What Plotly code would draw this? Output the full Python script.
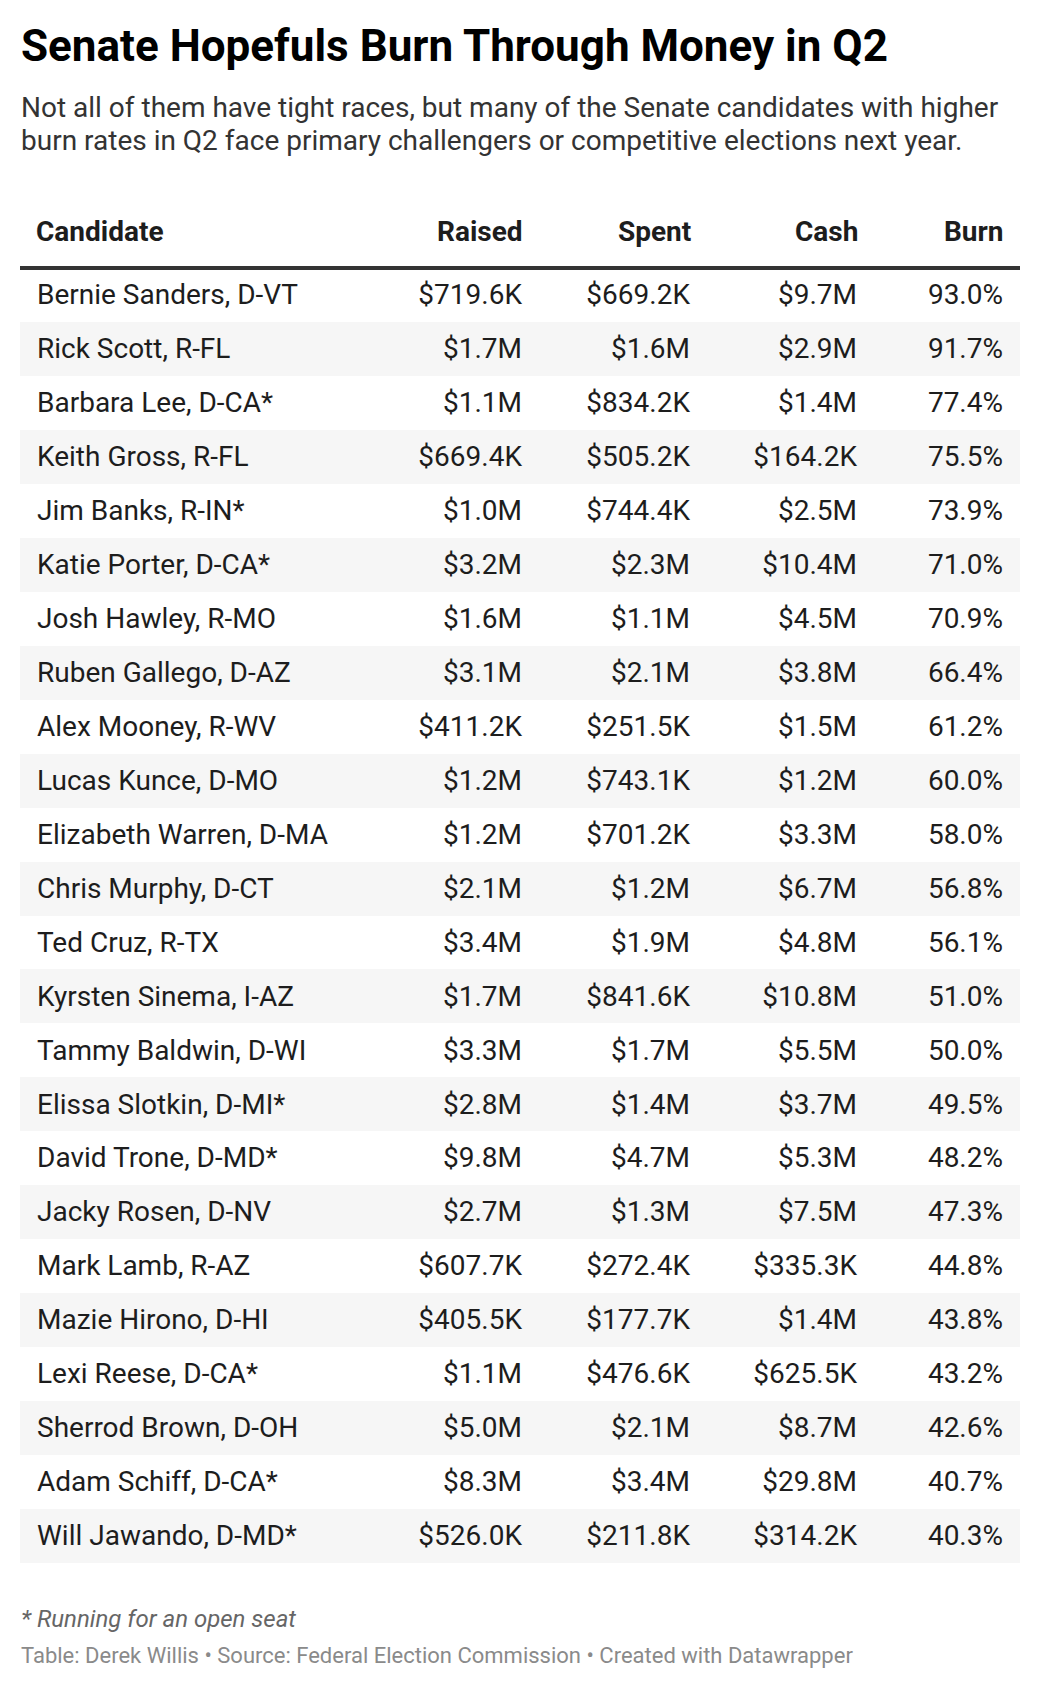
import plotly.graph_objects as go

# Q2 Senate campaign finance
candidates = [
    "Bernie Sanders, D-VT", "Rick Scott, R-FL", "Barbara Lee, D-CA*", "Keith Gross, R-FL",
    "Jim Banks, R-IN*", "Katie Porter, D-CA*", "Josh Hawley, R-MO", "Ruben Gallego, D-AZ",
    "Alex Mooney, R-WV", "Lucas Kunce, D-MO", "Elizabeth Warren, D-MA", "Chris Murphy, D-CT",
    "Ted Cruz, R-TX", "Kyrsten Sinema, I-AZ", "Tammy Baldwin, D-WI", "Elissa Slotkin, D-MI*",
    "David Trone, D-MD*", "Jacky Rosen, D-NV", "Mark Lamb, R-AZ", "Mazie Hirono, D-HI",
    "Lexi Reese, D-CA*", "Sherrod Brown, D-OH", "Adam Schiff, D-CA*", "Will Jawando, D-MD*",
]
raised = ["$719.6K", "$1.7M", "$1.1M", "$669.4K", "$1.0M", "$3.2M", "$1.6M", "$3.1M",
          "$411.2K", "$1.2M", "$1.2M", "$2.1M", "$3.4M", "$1.7M", "$3.3M", "$2.8M",
          "$9.8M", "$2.7M", "$607.7K", "$405.5K", "$1.1M", "$5.0M", "$8.3M", "$526.0K"]
spent = ["$669.2K", "$1.6M", "$834.2K", "$505.2K", "$744.4K", "$2.3M", "$1.1M", "$2.1M",
         "$251.5K", "$743.1K", "$701.2K", "$1.2M", "$1.9M", "$841.6K", "$1.7M", "$1.4M",
         "$4.7M", "$1.3M", "$272.4K", "$177.7K", "$476.6K", "$2.1M", "$3.4M", "$211.8K"]
cash = ["$9.7M", "$2.9M", "$1.4M", "$164.2K", "$2.5M", "$10.4M", "$4.5M", "$3.8M",
        "$1.5M", "$1.2M", "$3.3M", "$6.7M", "$4.8M", "$10.8M", "$5.5M", "$3.7M",
        "$5.3M", "$7.5M", "$335.3K", "$1.4M", "$625.5K", "$8.7M", "$29.8M", "$314.2K"]
burn = [93.0, 91.7, 77.4, 75.5, 73.9, 71.0, 70.9, 66.4, 61.2, 60.0, 58.0, 56.8,
        56.1, 51.0, 50.0, 49.5, 48.2, 47.3, 44.8, 43.8, 43.2, 42.6, 40.7, 40.3]
headers = ["Candidate", "Raised", "Spent", "Cash", "Burn"]

# page body has an 8px margin, so the figure is 16px smaller than the window
W, H = 1024, 1672
OFF = 8
FONT = "Roboto, 'Open Sans', sans-serif"
TXT = "#1d1d1d"

rows = list(range(len(candidates)))
n = len(rows)

# x axis is plain pixels inside the table (table runs 20..1020 on the page)
col_x = [17, 502, 670, 837, 983]          # left edge for first column, right edges for the rest
tbl_top, tbl_bot = 268 - OFF, 1563 - OFF
txt_dy = 0.04                             # nudge cell text a hair below row centre
ann_pad = 3                               # annotations carry a few px of padding


def py(page_y):
    return 1 - (page_y - OFF) / H


def px(page_x):
    return (page_x - OFF) / W


fig = go.Figure()

# zebra striping
fig.add_trace(go.Bar(
    y=rows, x=[1000] * n, base=0, orientation="h", width=1.0,
    marker=dict(color=["#ffffff" if i % 2 == 0 else "#f6f6f6" for i in rows], line_width=0),
    hoverinfo="skip", showlegend=False,
))

fig.add_trace(go.Scatter(
    x=[col_x[0]] * n, y=[r + txt_dy for r in rows], mode="text", text=candidates,
    textposition="middle right", textfont=dict(family=FONT, size=28, color=TXT),
    hoverinfo="skip", showlegend=False, cliponaxis=False,
))
for cx, vals in zip(col_x[1:], [raised, spent, cash, [f"{b:.1f}%" for b in burn]]):
    fig.add_trace(go.Scatter(
        x=[cx] * n, y=[r + txt_dy for r in rows], mode="text", text=vals,
        textposition="middle left", textfont=dict(family=FONT, size=28, color=TXT),
        hoverinfo="skip", showlegend=False, cliponaxis=False,
    ))

# header labels above the thick rule (x follows the table axis, y is paper)
for i, (cx, h) in enumerate(zip(col_x, headers)):
    fig.add_annotation(
        x=cx - ann_pad if i == 0 else cx + ann_pad, y=py(231), xref="x", yref="paper",
        text="<b>" + h + "</b>", showarrow=False,
        xanchor="left" if i == 0 else "right", yanchor="middle",
        font=dict(family=FONT, size=28, color=TXT),
    )

fig.add_shape(type="line", xref="x", yref="paper", x0=0, x1=1000, y0=py(268), y1=py(268),
              line=dict(color="#333333", width=4))

fig.update_xaxes(domain=[(20 - OFF) / W, (1020 - OFF) / W], range=[0, 1000],
                 visible=False, fixedrange=True)
fig.update_yaxes(
    domain=[1 - tbl_bot / H, 1 - tbl_top / H], range=[n - 0.5, -0.5],
    tickvals=[i + 0.5 for i in rows[:-1]], showticklabels=False, ticks="",
    showgrid=True, gridcolor="#e6e6e6", gridwidth=2, zeroline=False, showline=False,
    fixedrange=True,
)

anns = [
    dict(text="<b>Senate Hopefuls Burn Through Money in Q2</b>", x=px(19), y=py(46),
         font=dict(family=FONT, size=44, color="#000000")),
    dict(text="Not all of them have tight races, but many of the Senate candidates with higher",
         x=px(19), y=py(107), font=dict(family=FONT, size=28, color="#333333")),
    dict(text="burn rates in Q2 face primary challengers or competitive elections next year.",
         x=px(19), y=py(140), font=dict(family=FONT, size=28, color="#333333")),
    dict(text="<i>* Running for an open seat</i>", x=px(19), y=py(1619),
         font=dict(family=FONT, size=24, color="#666666")),
    dict(text="Table: Derek Willis • Source: Federal Election Commission • Created with Datawrapper",
         x=px(19), y=py(1655), font=dict(family=FONT, size=22, color="#8a8a8a")),
]
for a in anns:
    fig.add_annotation(xref="paper", yref="paper", xanchor="left", yanchor="middle",
                       showarrow=False, align="left", **a)

fig.update_layout(
    width=W, height=H, margin=dict(l=0, r=0, t=0, b=0),
    paper_bgcolor="white", plot_bgcolor="white", bargap=0,
)

fig.write_html("out.html")
